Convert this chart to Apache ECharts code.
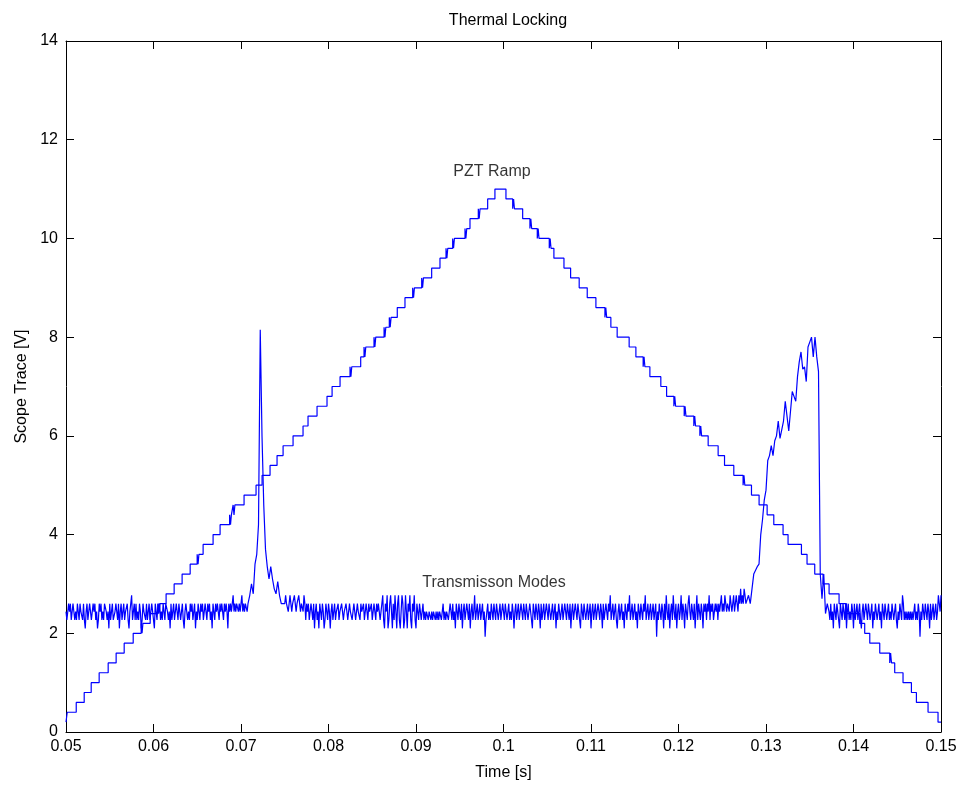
<!DOCTYPE html>
<html><head><meta charset="utf-8">
<script src="https://cdn.jsdelivr.net/npm/echarts@6/dist/echarts.min.js"></script>
<style>html,body{margin:0;padding:0;background:#fff}#c{width:968px;height:787px}</style>
</head><body><div id="c"></div>
<script>
const xTickLabels = ['0.05','0.06','0.07','0.08','0.09','0.1','0.11','0.12','0.13','0.14','0.15'];
const yTickLabels = ['0','2','4','6','8','10','12','14'];

// PZT ramp, rising half: [time at which level begins, level] (includes short toggles at some steps)
const rampRise = [[0.05,0.2],[0.05014,0.4],[0.05117,0.6],[0.05208,0.8],[0.05288,1.0],[0.05379,1.2],
[0.05482,1.4],[0.05573,1.6],[0.05665,1.8],[0.05768,2.0],[0.05859,2.2],[0.05869,2.0],[0.05879,2.2],
[0.05962,2.4],[0.06053,2.6],[0.06063,2.4],[0.06073,2.6],[0.06144,2.8],[0.06236,3.0],[0.06327,3.2],
[0.06419,3.4],[0.06499,3.6],[0.06509,3.4],[0.06519,3.6],[0.06567,3.8],[0.06681,4.0],[0.06761,4.2],
[0.06870,4.4],[0.06880,4.2],[0.06890,4.4],[0.06910,4.6],[0.06920,4.4],[0.06930,4.6],[0.07035,4.8],
[0.07172,5.0],[0.07241,5.2],[0.07332,5.4],[0.07412,5.6],[0.07481,5.8],[0.07595,6.0],[0.07709,6.2],
[0.07766,6.4],[0.07869,6.6],[0.07983,6.8],[0.08041,7.0],[0.08132,7.2],[0.08246,7.4],[0.08256,7.2],
[0.08266,7.4],[0.08368,7.6],[0.08406,7.8],[0.08416,7.6],[0.08426,7.8],[0.08520,8.0],[0.08530,7.8],
[0.08540,8.0],[0.08635,8.2],[0.08645,8.0],[0.08655,8.2],[0.08695,8.4],[0.08705,8.2],[0.08715,8.4],
[0.08786,8.6],[0.08874,8.8],[0.08962,9.0],[0.08972,8.8],[0.08982,9.0],[0.09065,9.2],[0.09075,9.0],
[0.09085,9.2],[0.09179,9.4],[0.09274,9.6],[0.09343,9.8],[0.09353,9.6],[0.09363,9.8],[0.09419,10.0],
[0.09429,9.8],[0.09439,10.0],[0.09560,10.2],[0.09570,10.0],[0.09580,10.2],[0.09617,10.4],[0.09712,10.6],
[0.09722,10.4],[0.09732,10.6],[0.09819,10.8],[0.09902,11.0]];
// PZT ramp, falling half
const rampFall = [[0.10028,10.8],[0.10105,10.6],[0.10115,10.8],[0.10125,10.6],[0.10219,10.4],
[0.10302,10.2],[0.10312,10.4],[0.10322,10.2],[0.10386,10.0],[0.10396,10.2],[0.10406,10.0],
[0.10523,9.8],[0.10533,10.0],[0.10543,9.8],[0.10576,9.6],[0.10691,9.4],[0.10767,9.2],[0.10865,9.0],
[0.10957,8.8],[0.11056,8.6],[0.11159,8.4],[0.11169,8.6],[0.11179,8.4],[0.11227,8.2],[0.11299,8.0],
[0.11436,7.8],[0.11513,7.6],[0.11596,7.4],[0.11606,7.6],[0.11616,7.4],[0.11673,7.2],[0.11798,7.0],
[0.11864,6.8],[0.11947,6.6],[0.11957,6.8],[0.11967,6.6],[0.12065,6.4],[0.12075,6.6],[0.12085,6.4],
[0.12175,6.2],[0.12185,6.4],[0.12195,6.2],[0.12244,6.0],[0.12254,6.2],[0.12264,6.0],[0.12339,5.8],
[0.12453,5.6],[0.12526,5.4],[0.12632,5.2],[0.12738,5.0],[0.12748,5.2],[0.12758,5.0],[0.12834,4.8],
[0.12921,4.6],[0.13013,4.4],[0.13089,4.2],[0.13195,4.0],[0.13252,3.8],[0.13405,3.6],[0.13469,3.4],
[0.13557,3.2],[0.13652,3.0],[0.13721,2.8],[0.13835,2.6],[0.13919,2.4],[0.14071,2.2],[0.14128,2.0],
[0.14186,1.8],[0.14300,1.6],[0.14414,1.4],[0.14424,1.6],[0.14434,1.4],[0.14471,1.2],[0.14566,1.0],
[0.14662,0.8],[0.14719,0.6],[0.14852,0.4],[0.14966,0.2],[0.15,0.2]];

// Transmission trace: segments of scope samples (start time, sample step, values)
const transAStart = 0.05, transAStep = 0.0001;
const transA = [
2.44,2.27,2.27,2.6,2.44,2.6,2.27,2.44,2.6,2.6,2.27,2.44,2.27,2.6,2.44,2.27,
2.6,2.44,2.44,2.27,2.6,2.27,2.1,2.44,2.6,2.27,2.44,2.6,2.44,2.27,2.27,2.6,
2.44,2.6,2.27,2.44,2.1,2.27,2.6,2.44,2.6,2.27,2.44,2.27,2.6,2.6,2.44,2.27,
2.44,2.1,2.6,2.27,2.44,2.6,2.27,2.27,2.44,2.6,2.44,2.27,2.6,2.1,2.44,2.6,
2.27,2.44,2.6,2.27,2.44,2.44,2.6,2.27,2.1,2.44,2.6,2.77,2.27,2.44,2.6,2.27,
2.6,2.27,2.44,2.27,2.6,2.44,2.1,2.27,2.6,2.44,2.44,2.27,2.6,2.27,2.44,2.6,
2.27,2.44,2.6,2.44,2.27,2.1,2.6,2.44,2.27,2.6,2.44,2.6,2.27,2.44,2.27,2.6,
2.44,2.27,2.6,2.6,2.44,2.27,2.44,2.1,2.6,2.27,2.44,2.6,2.27,2.44,2.6,2.44,
2.27,2.6,2.44,2.27,2.44,2.6,2.27,2.1,2.44,2.6,2.6,2.27,2.44,2.27,2.6,2.44,
2.6,2.27,2.44,2.6,2.1,2.44,2.27,2.6,2.44,2.27,2.6,2.44,2.6,2.27,2.44,2.6,
2.44,2.27,2.6,2.44,2.6,2.27,2.44,2.1,2.6,2.44,2.27,2.6,2.44,2.6,2.44,2.27,
2.6,2.44,2.6,2.44,2.27,2.6,2.44,2.6,2.44,2.1,2.6,2.44,2.6,2.44,2.6,2.77,
2.44,2.6,2.44,2.6,2.6,2.44,2.6,2.44,2.6,2.77,2.44,2.6,2.44,2.6,2.6,2.44];
const transPeak1Start = 0.0708, transPeak1Step = 0.0002;
const transPeak1 = [2.6,2.77,3.0,2.8,3.4,3.6,4.2,8.15,6.0,4.6,3.7,3.35,3.1,3.35,3.1,2.9,2.8,3.05,2.77,2.6,2.6];
const transBStart = 0.075, transBStep = 0.0001;
const transB = [
2.6,2.77,2.6,2.6,2.44,2.6,2.77,2.6,2.44,2.6,2.6,2.77,2.6,2.44,2.6,2.6,
2.77,2.6,2.44,2.6,2.6,2.44,2.77,2.6,2.27,2.6,2.44,2.6,2.27,2.44,2.6,2.44,
2.27,2.6,2.1,2.44,2.6,2.27,2.44,2.1,2.6,2.44,2.27,2.6,2.44,2.1,2.27,2.6,
2.44,2.27,2.6,2.44,2.1,2.44,2.6,2.27,2.44,2.6,2.27,2.44,2.44,2.6,2.27,2.44,
2.44,2.6,2.44,2.27,2.44,2.44,2.6,2.44,2.27,2.44,2.6,2.44,2.44,2.27,2.44,2.6,
2.44,2.27,2.44,2.6,2.44,2.44,2.27,2.6,2.44,2.44,2.6,2.27,2.44,2.6,2.44,2.27,
2.6,2.44,2.44,2.6,2.27,2.44,2.6,2.44,2.27,2.6,2.44,2.6,2.44,2.27,2.44,2.6,
2.77,2.27,2.1,2.6,2.44,2.77,2.1,2.27,2.6,2.77,2.44,2.1,2.6,2.27,2.77,2.44,
2.1,2.6,2.77,2.27,2.1,2.44,2.77,2.6,2.1,2.27,2.77,2.44,2.1,2.6,2.44,2.77,
2.27,2.1,2.6,2.44,2.77,2.27,2.1,2.6,2.44,2.27,2.6,2.44,2.27,2.44,2.6,2.27,
2.44,2.27,2.44,2.44,2.27,2.44,2.44,2.27,2.44,2.27,2.44,2.44,2.27,2.44,2.27,2.44,
2.27,2.44,2.44,2.27,2.44,2.6,2.27,2.44,2.27,2.44,2.44,2.27,2.44,2.6,2.44,2.27,
2.6,2.27,2.44,2.1,2.6,2.44,2.27,2.6,2.44,2.27,2.6,2.1,2.44,2.6,2.27,2.44,
2.6,2.44,2.27,2.6,2.1,2.44,2.6,2.27,2.44,2.77,2.27,2.44,2.6,2.27,2.44,2.6,
2.27,2.44,2.6,2.27,2.44,1.93,2.27,2.44,2.6,2.27,2.44,2.27,2.6,2.44,2.27,2.6,
2.44,2.27,2.6,2.44,2.27,2.44,2.6,2.27,2.44,2.6,2.44,2.27,2.6,2.44,2.27,2.44,
2.6,2.27,2.44,2.27,2.6,2.44,2.1,2.44,2.6,2.27,2.44,2.6,2.27,2.44,2.6,2.44,
2.27,2.6,2.44,2.27,2.6,2.44,2.27,2.44,2.6,2.44,2.27,2.1,2.6,2.44,2.27,2.6,
2.44,2.27,2.6,2.44,2.1,2.6,2.27,2.44,2.6,2.27,2.44,2.6,2.44,2.27,2.6,2.44,
2.27,2.44,2.6,2.27,2.44,2.6,2.1,2.44,2.27,2.6,2.44,2.27,2.44,2.6,2.27,2.44,
2.6,2.44,2.27,2.6,2.44,2.27,2.6,2.1,2.44,2.6,2.27,2.44,2.6,2.44,2.27,2.6,
2.44,2.27,2.1,2.6,2.44,2.27,2.6,2.44,2.27,2.44,2.6,2.27,2.44,2.6,2.1,2.44,
2.6,2.27,2.44,2.6,2.27,2.44,2.6,2.44,2.27,2.6,2.44,2.1,2.6,2.27,2.44,2.6,
2.44,2.27,2.6,2.44,2.77,2.27,2.44,2.6,2.27,2.44,2.6,2.27,2.1,2.44,2.6,2.27,
2.44,2.6,2.27,2.44,2.1,2.6,2.44,2.27,2.6,2.44,2.77,2.27,2.44,2.6,2.27,2.44,
2.6,2.27,2.44,2.1,2.6,2.44,2.27,2.6,2.44,2.27,2.6,2.44,2.77,2.27,2.44,2.6,
2.27,2.44,2.6,2.27,2.44,2.6,2.27,2.44,2.6,1.93,2.44,2.27,2.6,2.44,2.27,2.6,
2.44,2.1,2.6,2.27,2.77,2.44,2.27,2.6,2.1,2.44,2.6,2.27,2.77,2.44,2.27,2.6,
2.1,2.44,2.6,2.27,2.44,2.77,2.27,2.6,2.44,2.1,2.6,2.44,2.27,2.6,2.77,2.44,
2.27,2.6,2.44,2.27,2.6,2.1,2.44,2.77,2.27,2.6,2.44,2.27,2.6,2.44,2.1,2.6,
2.44,2.6,2.27,2.6,2.44,2.77,2.27,2.6,2.44,2.6,2.27,2.44,2.6,2.44,2.6,2.27,
2.6,2.44,2.6,2.77,2.44,2.6,2.44,2.77,2.6,2.44,2.6,2.6,2.44,2.77,2.6,2.44,
2.6,2.77,2.44,2.6,2.77,2.6,2.44,2.77,2.6,2.9,2.6,2.77,2.6,2.9,2.77,2.6];
const transPeak2Start = 0.1278, transPeak2Step = 0.0002;
const transPeak2 = [2.6,2.77,2.6,2.9,3.2,3.2,3.35,3.4,4.0,4.3,
4.7,4.9,5.5,5.6,5.8,5.6,5.9,6.0,6.3,5.95,
5.95,6.3,6.7,6.4,6.1,6.5,6.9,6.8,6.7,7.2,
7.5,7.7,7.35,7.4,7.1,7.8,7.9,8.0,7.6,8.0,
7.6,7.3,3.2,2.7,3.2,2.4,2.6];
const transCStart = 0.1372, transCStep = 0.0001;
const transC = [
2.44,2.27,2.6,2.27,2.44,2.1,2.6,2.44,2.27,2.6,2.44,2.27,2.1,2.6,2.44,2.27,
2.6,2.44,2.27,2.6,2.1,2.44,2.6,2.27,2.44,2.27,2.6,2.44,2.1,2.6,2.27,2.44,
2.6,2.27,2.44,2.6,2.27,2.1,2.44,2.6,2.27,2.44,2.6,2.44,2.27,2.6,2.44,2.27,
2.44,2.6,2.1,2.44,2.27,2.6,2.44,2.27,2.44,2.6,2.27,2.44,2.1,2.6,2.44,2.27,
2.6,2.44,2.27,2.44,2.6,2.27,2.44,2.27,2.6,2.44,2.27,2.44,2.6,2.27,2.1,2.44,
2.27,2.6,2.44,2.27,2.77,2.6,2.27,2.44,2.27,2.44,2.27,2.44,2.27,2.44,2.27,2.44,
2.27,2.44,2.6,2.27,2.44,2.27,2.6,2.44,1.93,2.44,2.27,2.6,2.44,2.27,2.6,2.44,
2.27,2.6,2.44,2.1,2.6,2.27,2.44,2.6,2.27,2.44,2.6,2.27,2.44,2.77,2.6,2.44,
2.77];

const rampLabel = {text: 'PZT Ramp', t: 0.09868, v: 11.35};
const transLabel = {text: 'Transmisson Modes', t: 0.09891, v: 3.02};

function seg(start, step, vals) {
  return vals.map((v, i) => [+(start + i * step).toFixed(6), v]);
}
const rampData = rampRise.concat(rampFall);
const transData = [].concat(
  seg(transAStart, transAStep, transA),
  seg(transPeak1Start, transPeak1Step, transPeak1),
  seg(transBStart, transBStep, transB),
  seg(transPeak2Start, transPeak2Step, transPeak2),
  seg(transCStart, transCStep, transC));

const FONT = "'Liberation Sans', Arial, Helvetica, sans-serif";
const black = '#000';
const chart = echarts.init(document.getElementById('c'), null, {renderer: 'canvas'});
const tickCommon = {show: true, inside: true, length: 8, lineStyle: {color: black, width: 1}};
const lineCommon = {show: true, onZero: false, lineStyle: {color: black, width: 1}};
chart.setOption({
  animation: false,
  backgroundColor: '#fff',
  title: {text: 'Thermal Locking', left: 503, top: 8, textAlign: 'center',
    textStyle: {fontFamily: FONT, fontSize: 16, fontWeight: 'normal', color: black}},
  grid: {left: 66, right: 27, top: 41, bottom: 55, containLabel: false},
  xAxis: [{
    type: 'value', min: 0.05, max: 0.15, interval: 0.01, position: 'bottom',
    axisLine: lineCommon, axisTick: tickCommon, splitLine: {show: false},
    axisLabel: {color: black, fontFamily: FONT, fontSize: 16, margin: 7,
      formatter: v => xTickLabels[Math.round((v - 0.05) / 0.01)]},
    name: 'Time [s]', nameLocation: 'middle', nameGap: 33,
    nameTextStyle: {color: black, fontFamily: FONT, fontSize: 16}
  }, {
    type: 'value', min: 0.05, max: 0.15, interval: 0.01, position: 'top',
    axisLine: lineCommon, axisTick: tickCommon, splitLine: {show: false},
    axisLabel: {show: false}
  }],
  yAxis: [{
    type: 'value', min: 0, max: 14, interval: 2, position: 'left',
    axisLine: lineCommon, axisTick: tickCommon, splitLine: {show: false},
    axisLabel: {color: black, fontFamily: FONT, fontSize: 16, margin: 8,
      formatter: v => yTickLabels[Math.round(v / 2)]},
    name: 'Scope Trace [V]', nameLocation: 'middle', nameGap: 34,
    nameTextStyle: {color: black, fontFamily: FONT, fontSize: 16}
  }, {
    type: 'value', min: 0, max: 14, interval: 2, position: 'right',
    axisLine: lineCommon, axisTick: tickCommon, splitLine: {show: false},
    axisLabel: {show: false}
  }],
  series: [{
    name: 'PZT Ramp', type: 'line', step: 'end', data: rampData,
    xAxisIndex: 0, yAxisIndex: 0, showSymbol: false, symbol: 'none',
    lineStyle: {color: '#0000ff', width: 1.2}, silent: true, clip: true
  }, {
    name: 'Transmission', type: 'line', data: transData,
    xAxisIndex: 0, yAxisIndex: 0, showSymbol: false, symbol: 'none',
    lineStyle: {color: '#0000ff', width: 1.2}, silent: true, clip: true
  }, {
    name: 'labels', type: 'scatter', symbolSize: 1, silent: true,
    itemStyle: {color: 'rgba(0,0,0,0)'},
    data: [[rampLabel.t, rampLabel.v, rampLabel.text], [transLabel.t, transLabel.v, transLabel.text]],
    label: {show: true, position: 'inside', formatter: p => p.data[2],
      color: black, fontFamily: FONT, fontSize: 16}
  }]
});
</script>
</body></html>
